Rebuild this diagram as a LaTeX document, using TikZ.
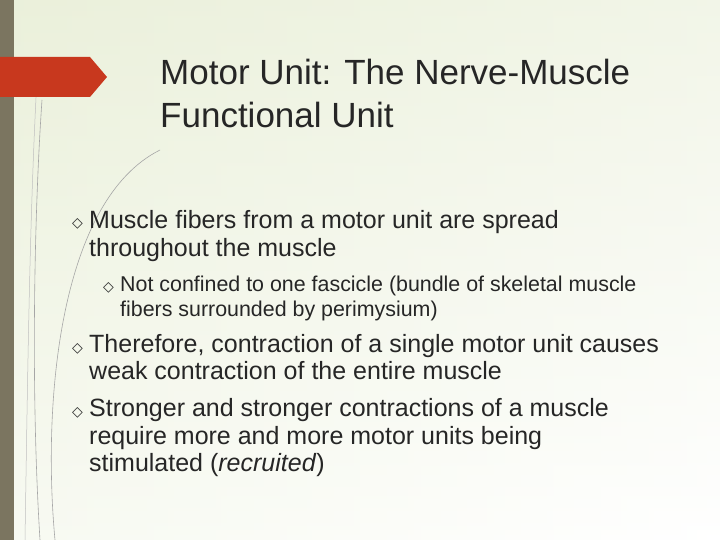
\documentclass[tikz,border=0pt]{standalone}
\usepackage{fontspec}
\setmainfont{Liberation Sans}
\newfontfamily\djfont{DejaVu Sans}
\definecolor{strip}{HTML}{7B7560}
\definecolor{bgl}{HTML}{E6EDD2}
\definecolor{tred}{HTML}{C8381E}
\definecolor{txt}{HTML}{262626}
\begin{document}
\begin{tikzpicture}[x=1pt,y=-1pt,
  ttl/.style={anchor=base west,font=\fontsize{35}{40}\selectfont,text=txt,inner sep=0},
  bul/.style={anchor=base west,font=\fontsize{25}{28}\selectfont,text=txt,inner sep=0},
  sub/.style={anchor=base west,font=\fontsize{21.4}{24}\selectfont,text=txt,inner sep=0},
  ic/.style={anchor=base west,font=\djfont\fontsize{14}{14}\selectfont,text=txt,inner sep=0}]
\shade[left color=bgl!60,right color=white] (0,0) rectangle (720,540);
\shade[top color=bgl,bottom color=white,opacity=0.5] (0,0) rectangle (720,540);
\useasboundingbox (0,0) rectangle (720,540);
\fill[strip] (0,0) rectangle (14,540);
\draw[gray!70,line width=0.6] (40,540) .. controls (30,380) and (35,200) .. (42,100);
\draw[gray!70,line width=0.6] (55,540) .. controls (42,400) and (60,200) .. (160,150);
\draw[gray!50,line width=0.5] (25,540) .. controls (28,350) and (30,200) .. (38,60);
\fill[tred] (0,57) -- (90,57) -- (107,77) -- (90,97) -- (0,97) -- cycle;
\node[ttl] (t1) at (160,85) {Motor Unit: The Nerve-Muscle};
\node[ttl] (t2) at (160,128) {Functional Unit};
\node[ic] (i1) at (72,228) {\char"25C7};
\node[bul] (b1) at (89,229) {Muscle fibers from a motor unit are spread};
\node[bul] (b1b) at (89,256) {throughout the muscle};
\node[ic] (i2) at (103,291) {\char"25C7};
\node[sub] (b2) at (120,291) {Not confined to one fascicle (bundle of skeletal muscle};
\node[sub] (b2b) at (120,316) {fibers surrounded by perimysium)};
\node[ic] (i3) at (72,352) {\char"25C7};
\node[bul] (b3) at (89,352) {Therefore, contraction of a single motor unit causes};
\node[bul] (b3b) at (89,379) {weak contraction of the entire muscle};
\node[ic] (i4) at (72,416) {\char"25C7};
\node[bul] (b4) at (89,416) {Stronger and stronger contractions of a muscle};
\node[bul] (b4b) at (89,444) {require more and more motor units being};
\node[bul] (b4c) at (89,471) {stimulated (\textit{recruited})};
\end{tikzpicture}
\end{document}
